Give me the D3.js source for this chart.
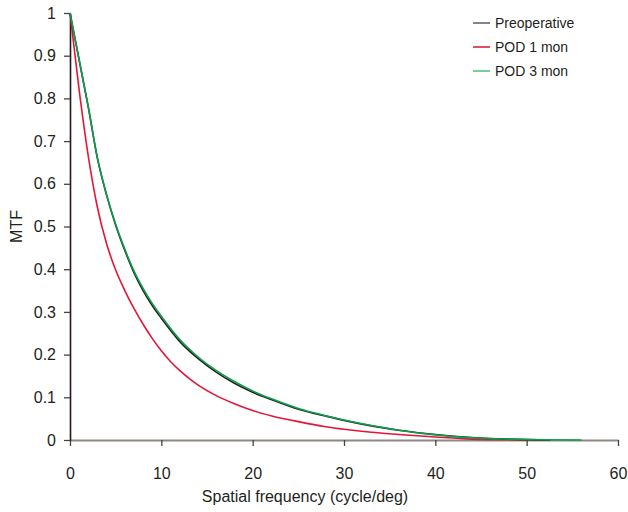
<!DOCTYPE html>
<html>
<head>
<meta charset="utf-8">
<script src="https://cdn.jsdelivr.net/npm/d3@7"></script>
<style>
  body { margin: 0; background: #fff; }
  svg { font-family: "Liberation Sans", Arial, sans-serif; }
</style>
</head>
<body>
<svg id="chart" width="628" height="512"></svg>
<script>
// spatial frequency (cycle/deg) and MTF values
const freqPreop = [0, 1, 2, 3, 4, 5, 6, 7, 8, 9, 10, 12, 14, 16, 18, 20, 22, 25, 28, 30, 33, 36, 40, 44, 48, 52.6];
const mtfPreop  = [1.0, 0.89, 0.78, 0.66, 0.574, 0.503, 0.444, 0.392, 0.35, 0.315, 0.285, 0.231, 0.191, 0.159, 0.133, 0.112, 0.095, 0.072, 0.056, 0.046, 0.033, 0.023, 0.013, 0.006, 0.002, 0];

const freqPod1 = [0, 1, 2, 3, 4, 5, 6, 7, 8, 9, 10, 11, 12, 13, 14, 16, 18, 20, 22, 25, 28, 30, 33, 36, 40, 44, 48, 50];
const mtfPod1  = [1.0, 0.82, 0.665, 0.545, 0.46, 0.398, 0.35, 0.308, 0.271, 0.238, 0.209, 0.184, 0.163, 0.145, 0.129, 0.104, 0.085, 0.069, 0.057, 0.043, 0.031, 0.025, 0.018, 0.013, 0.007, 0.002, 0.0005, 0];

const freqPod3 = [0, 1, 2, 3, 4, 5, 6, 7, 8, 9, 10, 12, 14, 16, 18, 20, 22, 25, 28, 30, 33, 36, 40, 44, 48, 52, 56];
const mtfPod3  = [1.0, 0.89, 0.78, 0.66, 0.575, 0.505, 0.447, 0.396, 0.355, 0.32, 0.29, 0.236, 0.195, 0.163, 0.137, 0.115, 0.097, 0.074, 0.057, 0.047, 0.034, 0.023, 0.012, 0.005, 0.002, 0.0005, 0];

const xTicks = [0, 10, 20, 30, 40, 50, 60];
const yTicks = [0, 0.1, 0.2, 0.3, 0.4, 0.5, 0.6, 0.7, 0.8, 0.9, 1];

const seriesNames = ["Preoperative", "POD 1 mon", "POD 3 mon"];

const svg = d3.select("#chart");
const margens = { left: 70, right: 10, top: 13, bottom: 72 };
const width = 628, height = 512;

const x = d3.scaleLinear().domain([0, 60]).range([margens.left, width - margens.right]);
const y = d3.scaleLinear().domain([0, 1]).range([height - margens.bottom, margens.top]);

const series = [
    { name: seriesNames[1], xs: freqPod1, ys: mtfPod1, color: "#e5153a", legend: "#d9243c" },
    { name: seriesNames[0], xs: freqPreop, ys: mtfPreop, color: "#231f20", legend: "#666" },
    { name: seriesNames[2], xs: freqPod3, ys: mtfPod3, color: "#0e9e4a", legend: "#55c184" }
];

const line = d3.line()
    .x(d => x(d[0]))
    .y(d => y(d[1]))
    .curve(d3.curveMonotoneX);

// x axis
svg.append("g")
    .attr("transform", `translate(0, ${y(0)})`)
    .call(d3.axisBottom(x).tickValues(xTicks).tickSize(6).tickPadding(22).tickSizeOuter(0))
    .call(g => g.select(".domain").attr("stroke", "#8e8883").attr("stroke-width", 2))
    .call(g => g.selectAll(".tick line").attr("stroke", "#444").attr("stroke-width", 1.3))
    .call(g => g.selectAll(".tick text").attr("font-size", "16px").attr("fill", "#231f20")
        .attr("font-family", "'Liberation Sans', Arial, sans-serif"));

// y axis
svg.append("g")
    .attr("transform", `translate(${x(0)}, 0)`)
    .call(d3.axisLeft(y).tickValues(yTicks).tickFormat(d3.format("~g")).tickSize(6).tickPadding(8).tickSizeOuter(0))
    .call(g => g.select(".domain").attr("stroke", "#231815").attr("stroke-width", 1.6))
    .call(g => g.selectAll(".tick line").attr("stroke", "#444").attr("stroke-width", 1.3))
    .call(g => g.selectAll(".tick text").attr("font-size", "16px").attr("fill", "#231f20")
        .attr("font-family", "'Liberation Sans', Arial, sans-serif"));

// curves
svg.append("g").selectAll("path")
    .data(series)
    .join("path")
    .attr("fill", "none")
    .attr("stroke", d => d.color)
    .attr("stroke-width", 1.6)
    .attr("d", d => line(d.xs.map((v, i) => [v, d.ys[i]])));

// axis titles
svg.append("text")
    .attr("x", 305)
    .attr("y", 502)
    .attr("text-anchor", "middle")
    .attr("font-size", "16px")
    .attr("fill", "#231f20")
    .text("Spatial frequency (cycle/deg)");

svg.append("text")
    .attr("transform", `translate(22, ${(y(0) + y(1)) / 2}) rotate(-90)`)
    .attr("text-anchor", "middle")
    .attr("font-size", "16px")
    .attr("fill", "#231f20")
    .text("MTF");

// legend
const legendOrder = [series[1], series[0], series[2]];
const legend = svg.append("g").attr("transform", "translate(473, 23)");
const items = legend.selectAll("g")
    .data(legendOrder)
    .join("g")
    .attr("transform", (d, i) => `translate(0, ${i * 24})`);

items.append("line")
    .attr("x1", 0).attr("x2", 17)
    .attr("y1", 0).attr("y2", 0)
    .attr("stroke", d => d.legend)
    .attr("stroke-width", 1.6);

items.append("text")
    .attr("x", 22)
    .attr("y", 5)
    .attr("font-size", "14px")
    .attr("fill", "#231f20")
    .text(d => d.name);
</script>
</body>
</html>
